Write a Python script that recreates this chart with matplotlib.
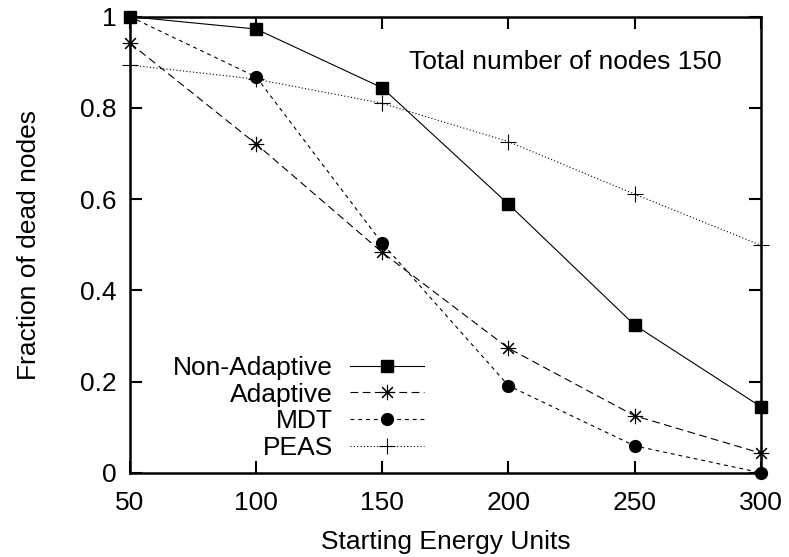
import matplotlib
matplotlib.use("Agg")
import matplotlib.pyplot as plt

plt.rcParams['font.family'] = ['Liberation Sans', 'DejaVu Sans']

energy = [50, 100, 150, 200, 250, 300]
non_adaptive = [1.0, 0.973, 0.844, 0.589, 0.324, 0.145]
adaptive = [0.942, 0.721, 0.483, 0.273, 0.125, 0.043]
mdt = [1.0, 0.868, 0.503, 0.191, 0.059, 0.0]
peas = [0.894, 0.863, 0.810, 0.726, 0.611, 0.499]

x_ticks = [50, 100, 150, 200, 250, 300]
y_ticks = [0, 0.2, 0.4, 0.6, 0.8, 1.0]
y_tick_labels = ['0', '0.2', '0.4', '0.6', '0.8', '1']

fs = 19
fig = plt.figure(figsize=(7.89, 5.57), dpi=100)
ax = fig.add_axes([0.1648, 0.1513, 0.9641 - 0.1648, 0.970 - 0.1513])

lw = 0.8
ax.plot(energy, non_adaptive, color='black', lw=lw, linestyle='-',
        marker='s', markersize=8.5, label='Non-Adaptive', clip_on=False, zorder=5)
ax.plot(energy, adaptive, color='black', lw=lw, linestyle=(0, (7, 4)),
        marker=(8, 2, 0), markersize=11, markeredgewidth=0.8, label='Adaptive',
        clip_on=False, zorder=4)
ax.plot(energy, mdt, color='black', lw=lw, linestyle=(0, (3.5, 3.5)),
        marker='o', markersize=8.5, label='MDT', clip_on=False, zorder=4)
ax.plot(energy, peas, color='black', lw=lw, linestyle=(0, (1, 2)),
        marker='+', markersize=11, markeredgewidth=0.8, label='PEAS',
        clip_on=False, zorder=3)

ax.set_xlim(50, 300)
ax.set_ylim(0, 1)
ax.set_xticks(x_ticks)
ax.set_yticks(y_ticks)
ax.set_yticklabels(y_tick_labels)
ax.tick_params(direction='in', length=8.5, width=1.5, labelsize=fs,
               top=True, right=True)
ax.tick_params(axis='x', pad=13)
ax.tick_params(axis='y', pad=10)
for sp in ax.spines.values():
    sp.set_linewidth(1.8)

ax.set_xlabel('Starting Energy Units', fontsize=fs, labelpad=11)
ax.set_ylabel('Fraction of dead nodes', fontsize=fs, labelpad=28)

ax.text(0.69, 0.90, 'Total number of nodes 150', transform=ax.transAxes,
        fontsize=fs, ha='center', va='center')

leg = ax.legend(loc='lower right', bbox_to_anchor=(424 / 789, 1 - 460 / 557),
                bbox_transform=fig.transFigure, frameon=False, markerfirst=False,
                fontsize=fs, handlelength=2.8, handletextpad=0.65,
                labelspacing=0.1, borderpad=0, borderaxespad=0)
for t in leg.get_texts():
    t.set_ha('right')
leg._legend_box.align = 'right'

fig.savefig('out.png', dpi=100)
